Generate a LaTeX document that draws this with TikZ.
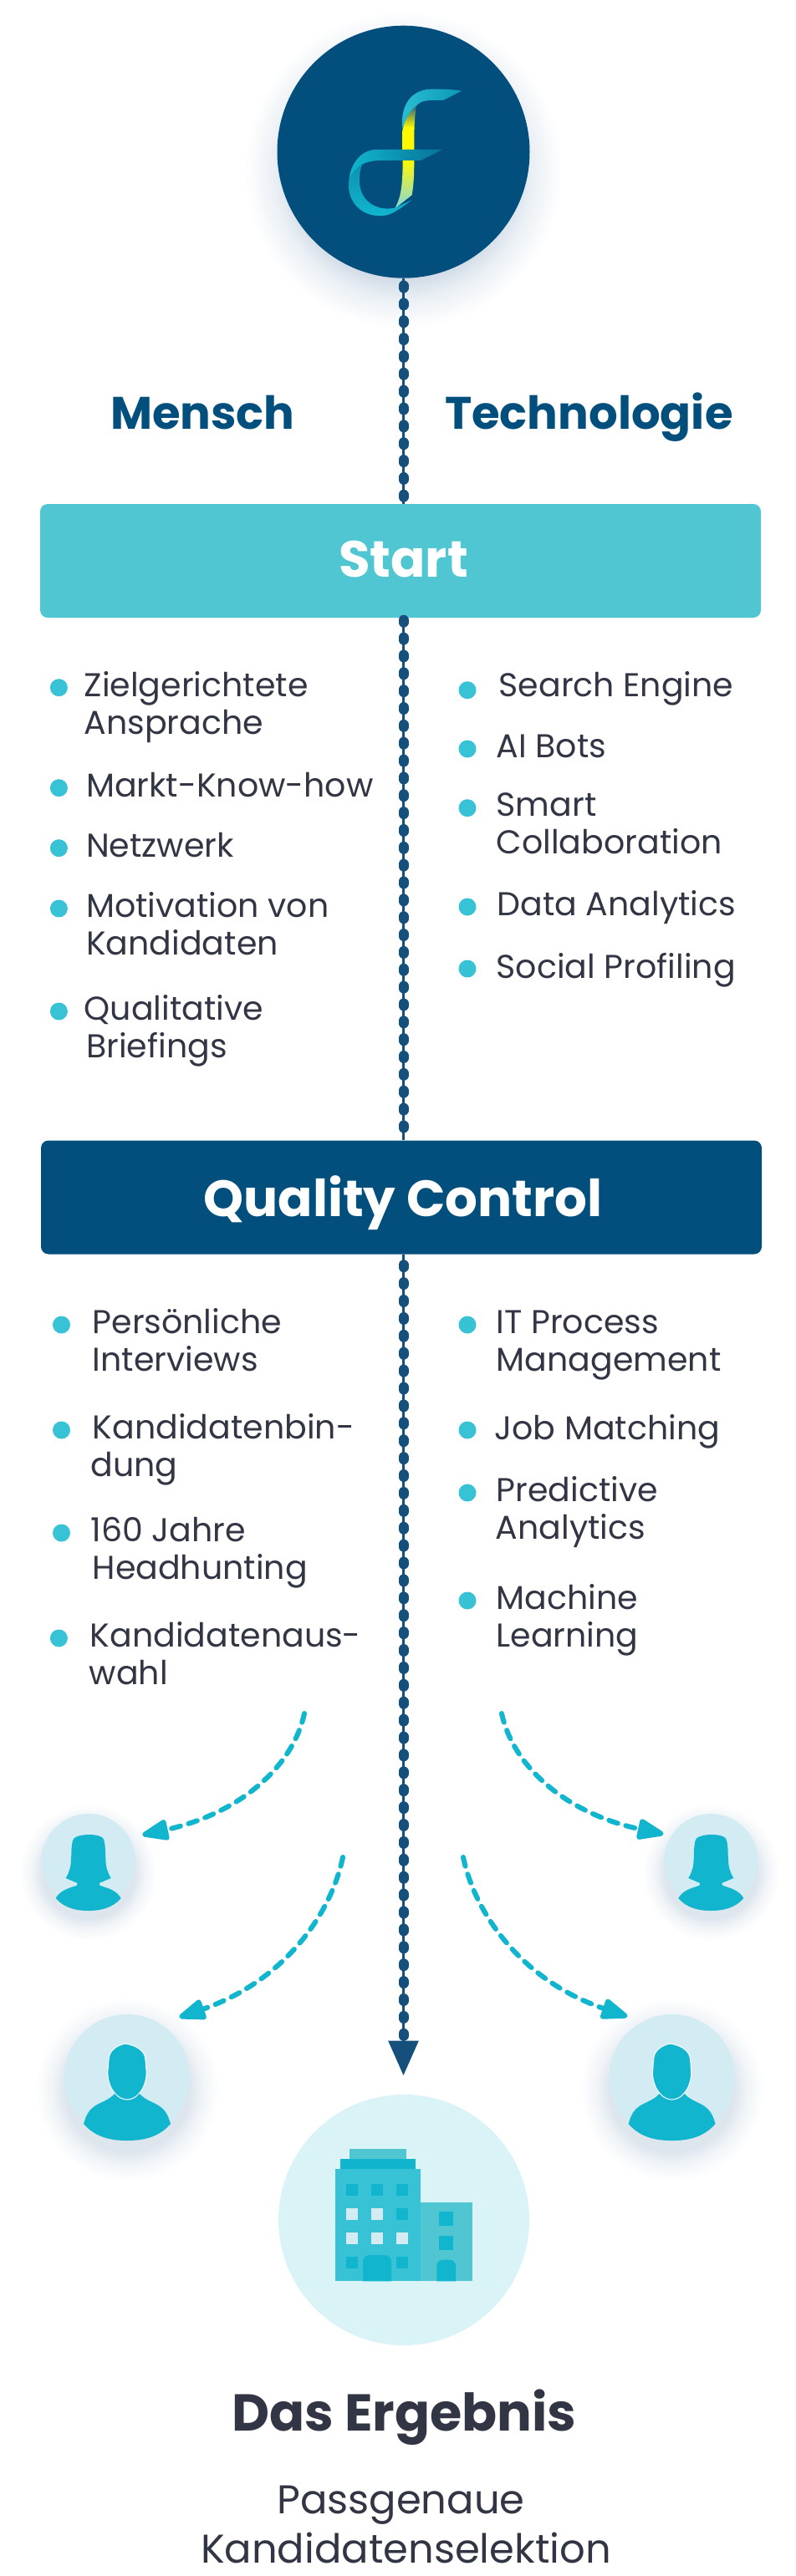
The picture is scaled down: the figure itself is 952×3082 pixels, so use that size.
\documentclass[tikz,border=0pt]{standalone}
\usepackage{fontspec}
\setmainfont{Poppins}
\usetikzlibrary{arrows.meta}
\definecolor{navyc}{HTML}{024F7D}
\definecolor{beadc}{HTML}{15507C}
\definecolor{tealc}{HTML}{11B6CE}
\definecolor{midc}{HTML}{38C2D6}
\definecolor{softc}{HTML}{51C6D3}
\definecolor{palec}{HTML}{D3EBF3}
\definecolor{iced}{HTML}{DAF3F7}
\definecolor{inkc}{HTML}{323544}
\definecolor{glowa}{HTML}{C8D5E1}
\definecolor{glowb}{HTML}{D0DBE6}
\definecolor{glowc}{HTML}{EBF0F5}
\pgfdeclareradialshading{softglow}{\pgfpoint{0bp}{0bp}}{color(0bp)=(glowa);
  color(17bp)=(glowb);
  color(20.5bp)=(glowc);
  color(25bp)=(white);
  color(50bp)=(white)}
\tikzstyle{stem}=[beadc, line width=3pt]
\tikzstyle{beads}=[beadc, line width=12pt, line cap=round, dash pattern=on 3pt off 17.85pt]
\tikzstyle{flow}=[tealc, line width=6pt, line cap=round, dash pattern=on 11pt off 10pt, -{Triangle[length=37pt,width=26pt,round=false]}]
\tikzstyle{bar}=[rectangle, rounded corners=9pt, minimum width=862pt, minimum height=136pt, text=white, font=\fontsize{61}{72}\selectfont\bfseries]
\tikzstyle{head}=[text=navyc, anchor=base west, font=\fontsize{54.5}{64}\selectfont\bfseries]
\tikzstyle{dot}=[circle, fill=midc, minimum size=21pt, inner sep=0pt]
\tikzstyle{item}=[text=inkc, anchor=base west, align=left, inner sep=0pt, xshift=-1.5pt, font=\fontsize{39.5}{45}\selectfont]
\tikzstyle{ring}=[circle, fill=palec, inner sep=0pt, outer sep=0pt]
\tikzstyle{sil}=[fill=tealc]
\tikzstyle{win}=[fill=tealc]
\tikzstyle{lit}=[fill=palec]
\newcommand{\womanfig}[1]{
\begin{scope}[shift={#1}]
\fill [sil] (1,-31) .. controls (12,-31) and (19,-28) .. (19,-23) .. controls (21,-12) and (20,-8) .. (20.6,-3) .. controls (21,8) and (22,12) .. (27,21) -- (13,27) -- (14,30) .. controls (24,33) and (34,36) .. (39,45) .. controls (28,58) and (12,60) .. (0,60) .. controls (-12,60) and (-28,58) .. (-39,45) .. controls (-34,36) and (-24,33) .. (-14,30) -- (-13,27) -- (-27,21) .. controls (-22,12) and (-21,8) .. (-20.6,-3) .. controls (-20,-8) and (-21,-12) .. (-19,-23) .. controls (-19,-28) and (-10,-31) .. (1,-31) -- cycle;
\end{scope}
}
\newcommand{\manfig}[1]{
\begin{scope}[shift={#1}]
\fill [sil] (-15,20) .. controls (-22,28) and (-32,30) .. (-39,35) .. controls (-48,41) and (-50,50) .. (-52,56) .. controls (-38,72) and (-20,76) .. (0,76) .. controls (20,76) and (38,72) .. (52,56) .. controls (50,50) and (48,41) .. (39,35) .. controls (32,30) and (22,28) .. (15,20) -- cycle;
\fill [sil, draw=white, line width=1pt] (-2,-40) .. controls (-12,-38) and (-22,-32) .. (-22,-20) .. controls (-23,-14) and (-22,-12) .. (-23,-8) .. controls (-24,2) and (-20,14) .. (-14,20) .. controls (-10,25) and (-4,27) .. (0,27) .. controls (4,27) and (10,25) .. (14,20) .. controls (20,14) and (24,2) .. (23,-8) .. controls (22,-12) and (23,-14) .. (22,-20) .. controls (22,-32) and (10,-38) .. (-2,-40) -- cycle;
\end{scope}
}

\begin{document}
\begin{tikzpicture}[x=1pt,y=-1pt]
\useasboundingbox (0,0) rectangle (952,3082);

\coordinate (tip) at (482.5,2483);
\coordinate (base) at (482.5,2441);
\coordinate (f1) at (364,2050);
\coordinate (f2) at (410,2222);
\coordinate (f3) at (600,2050);
\coordinate (f4) at (554,2222);

% soft shadows
\shade [shading=softglow] (482,203) circle (190);
\shade [shading=softglow, opacity=.7] (105.7,2240) circle (82);
\shade [shading=softglow, opacity=.7] (850.3,2240) circle (82);
\shade [shading=softglow, opacity=.7] (152,2500) circle (110);
\shade [shading=softglow, opacity=.7] (803.6,2500) circle (110);

\draw (482.5,181.7) node [circle, fill=navyc, minimum size=302pt, inner sep=0pt, outer sep=0pt] (logo) {};
\draw (479,671) node [bar, fill=softc] (startbox) {};
\draw (480,1432.5) node [bar, fill=navyc] (qcbox) {};

% central line
\draw [stem] (logo.south) -- (logo.south |- startbox.north);
\draw [beads, dash phase=12pt] (logo.south) -- (logo.south |- startbox.north);
\draw [stem] (logo.south |- startbox.south) -- (logo.south |- qcbox.north);
\draw [beads, dash phase=18.3pt] (logo.south |- startbox.south) -- (logo.south |- qcbox.north);
\draw [stem, -{Triangle[length=41.5pt,width=36pt]}] (logo.south |- qcbox.south) -- (tip);
\draw [beads, dash pattern=on 3pt off 17.9pt, dash phase=8.4pt] (logo.south |- qcbox.south) -- (base);

% box labels on top of the line
\draw (482.5,690) node [bar, anchor=base, minimum height=0pt, minimum width=0pt, inner sep=0pt] (starttext) {Start};
\draw (482,1455) node [bar, anchor=base, minimum height=0pt, minimum width=0pt, inner sep=0pt] (qctext) {Quality Control};

% logo ribbon
\begin{scope}[shift={(300,0)},scale=0.3333]
\shade [top color=navyc!70!gray, bottom color=yellow!95!orange, middle color=yellow!95!orange] (595,378) .. controls (586,420) and (586,470) .. (586,537) -- (545,537) -- (545,470) .. controls (548,430) and (570,400) .. (595,378) -- cycle;
\shade [left color=tealc!90!white, right color=navyc!30!tealc] (757,326) .. controls (720,320) and (680,320) .. (650,320) .. controls (580,320) and (543,370) .. (543,440) -- (545,470) .. controls (548,430) and (570,400) .. (595,378) .. controls (610,362) and (630,358) .. (690,360) -- cycle;
\shade [top color=yellow!95!orange, bottom color=softc!70!white] (545,576) -- (586,576) .. controls (586,620) and (585,660) .. (578,700) -- (517,748) .. controls (535,715) and (545,680) .. (545,576) -- cycle;
\shade [left color=tealc, right color=navyc!65!tealc] (687,537) -- (450,537) .. controls (395,537) and (358,590) .. (353,642) .. controls (365,620) and (380,603) .. (400,590) .. controls (420,578) and (450,576) .. (470,576) -- (610,576) -- cycle;
\shade [top color=navyc!35!tealc, bottom color=tealc] (353,642) .. controls (340,710) and (385,775) .. (465,775) .. controls (510,775) and (545,740) .. (578,718) -- (517,746) .. controls (450,760) and (390,720) .. (390,650) .. controls (390,620) and (393,605) .. (400,590) .. controls (380,603) and (365,620) .. (353,642) -- cycle;
\end{scope}

\draw (132,513) node [head, inner sep=0pt] (mensch) {Mensch};
\draw (532,513) node [head, inner sep=0pt] (tech) {Technologie};

% left column, start
\draw (70.4,822.7) node [dot] (d1) {};
\draw (102,833) node [item] (t1) {Zielgerichtete};
\draw (102,878) node [item] (t1b) {Ansprache};
\draw (70.4,942.7) node [dot] (d2) {};
\draw (104.5,953) node [item] (t2) {Markt-Know-how};
\draw (70.4,1014.7) node [dot] (d3) {};
\draw (104.5,1025) node [item] (t3) {Netzwerk};
\draw (70.4,1087) node [dot] (d4) {};
\draw (104.5,1097) node [item] (t4) {Motivation von};
\draw (104.5,1142.5) node [item] (t4b) {Kandidaten};
\draw (70.4,1210) node [dot] (d5) {};
\draw (102,1220) node [item] (t5) {Qualitative};
\draw (104.5,1265) node [item] (t5b) {Briefings};

% right column, start
\draw (559,825.7) node [dot] (d6) {};
\draw (598,833) node [item] (t6) {Search Engine};
\draw (559,896) node [dot] (d7) {};
\draw (595,906) node [item] (t7) {AI Bots};
\draw (559,966.7) node [dot] (d8) {};
\draw (595,976) node [item] (t8) {Smart};
\draw (595,1021) node [item] (t8b) {Collaboration};
\draw (559,1085) node [dot] (d9) {};
\draw (596,1095) node [item] (t9) {Data Analytics};
\draw (559,1159) node [dot] (d10) {};
\draw (595,1170) node [item] (t10) {Social Profiling};

% left column, quality
\draw (73.5,1585) node [dot] (d11) {};
\draw (112,1595) node [item] (t11) {Persönliche};
\draw (112,1640) node [item] (t11b) {Interviews};
\draw (73.5,1711) node [dot] (d12) {};
\draw (112,1721.7) node [item] (t12) {Kandidatenbin-};
\draw (110,1766.7) node [item] (t12b) {dung};
\draw (73.5,1834) node [dot] (d13) {};
\draw (110,1844) node [item] (t13) {160 Jahre};
\draw (112,1889) node [item] (t13b) {Headhunting};
\draw (70.4,1960) node [dot] (d14) {};
\draw (109,1970) node [item] (t14) {Kandidatenaus-};
\draw (108,2015) node [item] (t14b) {wahl};

% right column, quality
\draw (559,1585) node [dot] (d15) {};
\draw (595,1595) node [item] (t15) {IT Process};
\draw (595,1640) node [item] (t15b) {Management};
\draw (559,1711) node [dot] (d16) {};
\draw (593,1722) node [item] (t16) {Job Matching};
\draw (559,1786) node [dot] (d17) {};
\draw (595,1796) node [item] (t17) {Predictive};
\draw (594,1841.7) node [item] (t17b) {Analytics};
\draw (559,1915) node [dot] (d18) {};
\draw (595,1925) node [item] (t18) {Machine};
\draw (595,1970.7) node [item] (t18b) {Learning};

% people
\draw (105.7,2226) node [ring, minimum size=112pt] (w1) {};
\draw (850.3,2226) node [ring, minimum size=112pt] (w2) {};
\draw (152,2485) node [ring, minimum size=150pt] (m1) {};
\draw (803.6,2485) node [ring, minimum size=150pt] (m2) {};
\womanfig{(105.7,2226)}
\womanfig{(850.3,2226)}
\manfig{(152,2485)}
\manfig{(803.6,2485)}

\draw [flow, shorten >=16pt] (f1) .. controls (350,2115) and (285,2170) .. (w1.29.5);
\draw [flow, shorten >=9.5pt] (f3) .. controls (614,2115) and (679,2170) .. (w2.148);
\draw [flow, shorten >=24pt] (f2) .. controls (396,2290) and (340,2370) .. (m1.58);
\draw [flow, shorten >=19pt] (f4) .. controls (568,2290) and (625,2370) .. (m2.118.6);

% building
\draw (483,2656) node [circle, fill=iced, minimum size=300pt, inner sep=0pt] (office) {};
\fill [softc] (418,2571) rectangle (486,2583);
\fill [tealc] (407,2583) rectangle (497,2595);
\fill [midc] (401,2595) rectangle (502.7,2729.3);
\fill [softc] (502.7,2634.7) rectangle (565,2729.3);
\foreach \ux in {414,444,474} {
  \fill [win] (\ux,2613) rectangle +(14,14);
}
\fill [lit] (414,2642) rectangle +(14,14);
\fill [lit] (444,2642) rectangle +(14,14);
\fill [win] (474,2642) rectangle +(14,14);
\foreach \ux in {414,444,474} {
  \fill [lit] (\ux,2671) rectangle +(14,14);
}
\fill [win] (414,2700.3) rectangle +(14,14);
\fill [win] (474,2700.3) rectangle +(14,14);
\fill [win] (434,2729.3) [rounded corners=8pt] -- (434,2698) -- (468,2698) [sharp corners] -- (468,2729.3) -- cycle;
\fill [win] (525.3,2646) rectangle (542.3,2663.3);
\fill [win] (525.3,2675) rectangle (542.3,2692);
\fill [win] (522.3,2729.3) [rounded corners=7pt] -- (522.3,2703.7) -- (545,2703.7) [sharp corners] -- (545,2729.3) -- cycle;

\draw (483.5,2908) node [anchor=base, inner sep=0pt, text=inkc, font=\fontsize{62}{72}\selectfont\bfseries] (result) {Das Ergebnis};
\draw (479.5,3007) node [anchor=base, inner sep=0pt, text=inkc, font=\fontsize{48}{58}\selectfont] (sub1) {Passgenaue};
\draw (485.5,3066) node [anchor=base, inner sep=0pt, text=inkc, font=\fontsize{48}{58}\selectfont] (sub2) {Kandidatenselektion};

\end{tikzpicture}
\end{document}
